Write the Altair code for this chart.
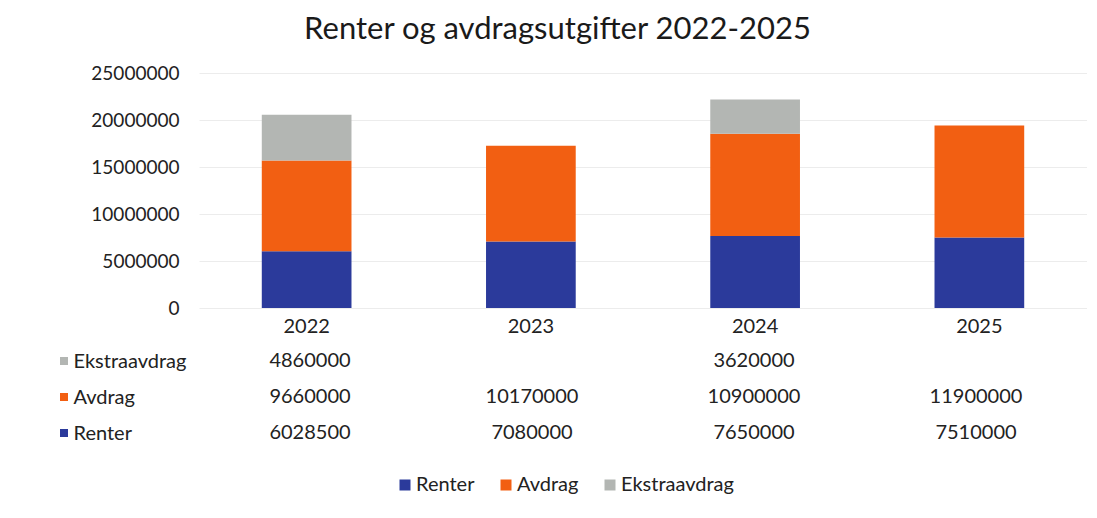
import altair as alt
import pandas as pd

years = ["2022", "2023", "2024", "2025"]
series = ["Renter", "Avdrag", "Ekstraavdrag"]
renter = [6028500, 7080000, 7650000, 7510000]
avdrag = [9660000, 10170000, 10900000, 11900000]
ekstra = [4860000, None, 3620000, None]
colors = ["#2b3a9b", "#f25f12", "#b3b6b3"]
y_ticks = [0, 5000000, 10000000, 15000000, 20000000, 25000000]
title_text = "Renter og avdragsutgifter 2022-2025"

rows = []
for s_i, (name, vals) in enumerate(zip(series, [renter, avdrag, ekstra])):
    for yr, v in zip(years, vals):
        if v is not None:
            rows.append({"year": yr, "serie": name, "value": v, "order": s_i})
df = pd.DataFrame(rows)

FONT = "Lato"
TXT = "#222222"
W = 888

color = alt.Color(
    "serie:N",
    scale=alt.Scale(domain=series, range=colors),
    legend=alt.Legend(
        title=None, orient="none", legendX=196, legendY=402, direction="horizontal",
        labelFontSize=20, labelFont=FONT, labelColor=TXT, symbolType="square",
        symbolSize=121, symbolStrokeWidth=0, columnPadding=21, labelOffset=1,
    ),
)
xscale = alt.Scale(domain=years, paddingInner=0.6, paddingOuter=0.28)

bars = alt.Chart(df).mark_bar().encode(
    x=alt.X("year:N", scale=xscale, axis=alt.Axis(
        title=None, labelAngle=0, ticks=False, domain=False, labelFontSize=20,
        labelFont=FONT, labelColor=TXT, labelPadding=8)),
    y=alt.Y("value:Q", stack="zero", scale=alt.Scale(domain=[0, 25000000]),
            axis=alt.Axis(values=y_ticks, format="d", title=None, ticks=False, domain=False,
                          labelFontSize=19, labelFont=FONT, labelColor=TXT, labelPadding=20,
                          gridColor="#ececec", gridWidth=1)),
    color=color,
    order=alt.Order("order:Q"),
).properties(width=W, height=235)

yaxis_t = alt.Axis(title=None, labelAlign="left", labelPadding=126, ticks=False, domain=False,
                   labelFontSize=20, labelFont=FONT, labelColor=TXT, grid=False)
text = alt.Chart(df).mark_text(fontSize=20, font=FONT, color=TXT).encode(
    x=alt.X("year:N", scale=xscale, axis=None),
    y=alt.Y("serie:N", sort=series[::-1], axis=yaxis_t),
    text=alt.Text("value:Q", format="d"),
)
squares = alt.Chart(pd.DataFrame({"serie": series})).mark_point(
    shape="square", filled=True, size=64, opacity=1).encode(
    x=alt.value(-135),
    y=alt.Y("serie:N", sort=series[::-1], axis=yaxis_t),
    color=color,
)
table = alt.layer(text, squares).properties(width=W, height=108)

chart = alt.vconcat(bars, table, spacing=35, bounds="flush").properties(
    title=alt.TitleParams(title_text, fontSize=31, font=FONT, fontWeight="normal",
                          color="#1a1a1a", anchor="middle", offset=18, dx=-16),
    padding={"left": 52, "top": 6, "right": 0, "bottom": 5},
).configure(font=FONT, view=alt.ViewConfig(stroke=None))

chart.save("out.html", embed_options={"renderer": "svg", "actions": False})
